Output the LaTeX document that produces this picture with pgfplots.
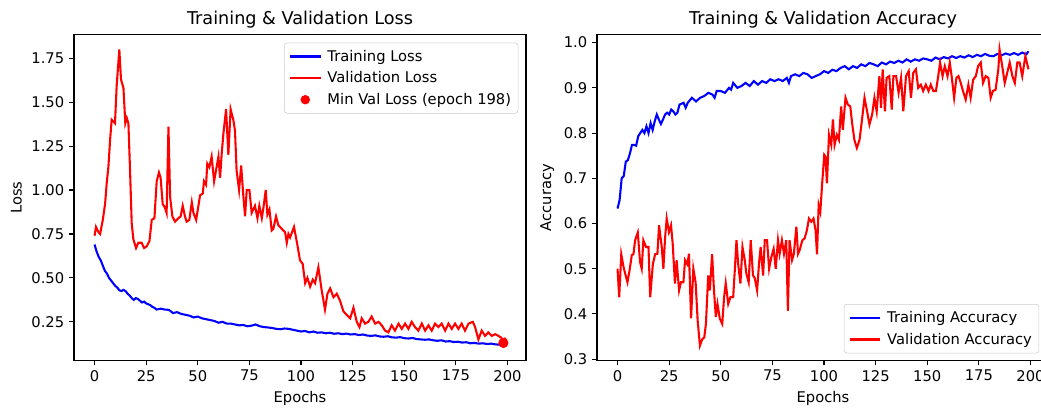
\documentclass[border=0pt]{standalone}
\usepackage{fontspec}
\setmainfont{DejaVu Sans}
\usepackage{pgfplots}
\usepackage{pgfplotstable}
\pgfplotsset{compat=1.18}

% training loss, per epoch early on, then every 2 epochs
\pgfplotstableread{
ep val
0 0.690
1 0.650
2 0.620
3 0.600
4 0.570
5 0.540
6 0.525
7 0.500
8 0.485
9 0.470
10 0.455
11 0.445
12 0.430
13 0.425
14 0.432
15 0.425
16 0.410
17 0.400
18 0.385
19 0.375
20 0.385
21 0.380
22 0.370
23 0.360
24 0.365
25 0.355
26 0.350
27 0.345
28 0.335
29 0.330
30 0.320
32 0.325
34 0.320
36 0.318
38 0.300
40 0.305
42 0.295
44 0.290
46 0.285
48 0.275
50 0.280
52 0.270
54 0.265
56 0.260
58 0.255
60 0.245
62 0.250
64 0.240
66 0.240
68 0.235
70 0.230
72 0.232
74 0.225
76 0.228
78 0.235
80 0.225
82 0.220
84 0.218
86 0.215
88 0.210
90 0.208
92 0.212
94 0.210
96 0.205
98 0.200
100 0.195
102 0.198
104 0.190
106 0.195
108 0.188
110 0.190
112 0.185
114 0.188
116 0.182
118 0.185
120 0.180
122 0.183
124 0.178
126 0.180
128 0.175
130 0.178
132 0.172
134 0.170
136 0.173
138 0.167
140 0.165
142 0.168
144 0.162
146 0.160
148 0.163
150 0.157
152 0.155
154 0.158
156 0.152
158 0.150
160 0.148
162 0.150
164 0.145
166 0.142
168 0.145
170 0.138
172 0.140
174 0.135
176 0.137
178 0.132
180 0.134
182 0.128
184 0.130
186 0.126
188 0.128
190 0.124
192 0.126
194 0.122
196 0.120
198 0.118
199 0.120
}\trainloss

\pgfplotstableread{
ep val
0 0.74
0.7 0.79
1.9 0.76
2.7 0.75
4.0 0.83
5.1 0.92
5.9 1.04
6.7 1.13
7.5 1.28
8.3 1.40
9.1 1.39
9.9 1.38
10.7 1.59
12.0 1.80
12.8 1.63
14.0 1.58
14.9 1.38
15.6 1.41
16.4 1.38
17.2 1.11
18.0 0.81
18.8 0.72
20.1 0.67
21.2 0.70
22.8 0.70
24.0 0.67
25.3 0.68
26.6 0.71
27.7 0.83
29.0 0.84
30.1 1.05
31.2 1.10
32.0 1.07
33.0 0.92
34.1 0.90
34.9 0.87
35.8 1.36
36.6 0.96
37.7 0.85
39.0 0.82
40.6 0.84
41.7 0.85
42.7 0.91
43.8 0.85
44.6 0.82
45.9 0.83
47.1 0.93
47.9 0.87
49.2 0.83
50.3 0.91
51.1 0.97
52.4 0.98
53.0 1.05
54.0 1.03
54.6 1.15
55.6 1.13
56.7 1.19
57.9 1.05
58.8 1.11
60.0 1.19
60.8 1.07
61.6 1.21
62.4 1.32
63.7 1.46
64.8 1.20
65.9 1.46
67.2 1.40
68.0 1.34
68.8 1.11
70.0 1.00
71.0 1.14
72.1 0.96
72.9 0.85
73.7 1.00
75.0 1.00
76.1 0.87
76.9 0.89
77.7 0.91
78.9 0.84
79.8 0.91
81.0 0.84
81.8 0.90
82.9 1.00
83.7 0.86
84.7 0.89
85.8 0.77
86.6 0.78
87.9 0.85
89.0 0.80
90.6 0.78
92.3 0.76
93.1 0.70
93.9 0.75
94.7 0.73
96.6 0.79
98.2 0.69
99.5 0.60
100.8 0.58
102.0 0.47
103.1 0.50
104.4 0.45
105.7 0.49
106.8 0.47
108.4 0.56
110.0 0.43
111.6 0.32
112.8 0.41
114.1 0.44
115.7 0.39
117.3 0.41
118.9 0.37
120.5 0.31
122.1 0.29
123.8 0.27
125.4 0.33
127.0 0.25
128.3 0.22
129.4 0.27
131.0 0.24
132.6 0.25
134.2 0.28
135.9 0.24
137.5 0.25
139.1 0.23
140.7 0.20
142.3 0.19
143.9 0.23
145.5 0.20
147.2 0.24
148.8 0.21
150.4 0.24
152.0 0.21
153.6 0.25
155.2 0.22
156.8 0.20
158.5 0.24
160.1 0.20
161.7 0.23
163.3 0.20
164.9 0.24
166.5 0.22
168.1 0.24
169.8 0.20
171.4 0.24
173.0 0.21
174.6 0.24
176.2 0.21
177.8 0.24
179.4 0.20
181.1 0.24
183.2 0.25
184.3 0.22
185.9 0.15
187.5 0.20
189.1 0.17
190.7 0.19
192.4 0.17
194.0 0.18
195.6 0.17
197.0 0.16
198.0 0.13
199.0 0.16
}\valloss

\pgfplotstableread{
ep val
0 0.633
1 0.652
2 0.700
3 0.705
4 0.737
5 0.740
6 0.755
7 0.774
8 0.774
9 0.772
10 0.793
11 0.800
12 0.807
13 0.800
14 0.815
15 0.800
16 0.822
17 0.807
18 0.826
19 0.841
20 0.830
21 0.820
22 0.830
23 0.841
24 0.845
25 0.841
26 0.852
27 0.848
28 0.841
29 0.845
30 0.863
32 0.867
33 0.856
34 0.867
36 0.878
37 0.874
38 0.870
40 0.878
42 0.882
44 0.889
46 0.885
47 0.878
48 0.893
50 0.893
52 0.889
54 0.900
55 0.896
56 0.911
58 0.900
60 0.904
62 0.911
64 0.904
66 0.915
68 0.907
70 0.915
72 0.911
74 0.919
76 0.915
78 0.919
80 0.915
82 0.922
83 0.911
84 0.926
86 0.930
88 0.926
90 0.933
92 0.930
94 0.922
96 0.926
98 0.930
100 0.937
102 0.933
104 0.940
106 0.937
108 0.944
110 0.948
112 0.941
114 0.948
116 0.944
118 0.952
120 0.948
122 0.955
124 0.952
126 0.948
128 0.956
130 0.952
132 0.958
134 0.955
136 0.960
138 0.956
140 0.963
142 0.958
144 0.963
146 0.960
148 0.965
150 0.963
152 0.960
154 0.967
156 0.963
158 0.968
160 0.965
162 0.970
164 0.966
166 0.970
168 0.967
170 0.972
172 0.968
174 0.973
176 0.970
178 0.975
180 0.971
182 0.970
184 0.975
186 0.972
188 0.976
190 0.973
192 0.977
194 0.973
196 0.978
198 0.974
199 0.981
}\trainacc

\pgfplotstableread{
ep val
0.0 0.500
0.8 0.437
1.8 0.532
2.9 0.504
3.7 0.489
4.8 0.470
5.8 0.496
6.9 0.530
7.7 0.532
8.5 0.563
9.8 0.580
10.9 0.515
11.7 0.500
12.5 0.563
13.8 0.548
14.98 0.548
15.8 0.437
17.1 0.510
18.2 0.532
19.3 0.533
20.1 0.596
21.4 0.548
22.2 0.500
23.0 0.567
23.8 0.611
24.9 0.581
25.9 0.596
26.7 0.556
27.8 0.467
28.6 0.519
29.8 0.452
30.7 0.470
31.9 0.470
32.7 0.519
33.8 0.510
34.6 0.533
35.6 0.390
36.7 0.500
37.8 0.470
38.8 0.385
39.9 0.330
41.0 0.344
42.0 0.348
42.8 0.378
43.9 0.485
44.7 0.452
45.8 0.532
46.7 0.452
47.6 0.393
48.4 0.422
49.5 0.390
50.7 0.378
51.6 0.437
52.4 0.468
53.6 0.422
54.7 0.437
56.0 0.437
56.8 0.498
57.6 0.563
58.4 0.511
59.5 0.467
60.5 0.548
61.6 0.519
62.4 0.489
63.5 0.470
64.5 0.563
65.6 0.485
66.4 0.480
67.6 0.452
68.5 0.511
69.3 0.548
70.5 0.485
71.3 0.563
72.4 0.563
73.4 0.500
74.5 0.526
75.6 0.544
76.6 0.500
77.7 0.563
78.5 0.533
79.6 0.563
80.6 0.533
81.7 0.563
82.5 0.407
83.3 0.563
84.5 0.519
85.4 0.533
86.6 0.593
87.4 0.533
88.2 0.541
89.5 0.563
90.6 0.567
91.7 0.585
92.7 0.611
93.8 0.604
94.9 0.611
95.9 0.585
96.6 0.532
97.4 0.641
98.2 0.626
99.1 0.689
100.1 0.752
100.7 0.748
101.4 0.689
102.4 0.796
103.5 0.774
104.3 0.830
105.1 0.774
106.2 0.796
107.2 0.785
108.3 0.859
109.1 0.807
110.4 0.878
111.5 0.863
112.7 0.859
113.6 0.822
114.7 0.785
115.9 0.767
117.2 0.785
118.4 0.830
119.6 0.878
120.7 0.852
122.0 0.819
123.3 0.841
124.4 0.878
125.5 0.848
126.8 0.926
127.6 0.856
128.4 0.941
129.5 0.848
130.3 0.922
131.6 0.926
132.8 0.852
133.6 0.926
134.9 0.926
136.1 0.889
137.3 0.922
138.4 0.848
139.7 0.926
141.0 0.937
142.1 0.878
143.2 0.933
144.5 0.941
145.6 0.900
146.9 0.907
148.0 0.893
149.3 0.907
150.6 0.893
151.7 0.907
152.9 0.893
154.2 0.893
155.3 0.926
156.2 0.956
157.4 0.926
158.5 0.948
159.8 0.926
160.9 0.956
161.9 0.922
163.0 0.878
164.1 0.922
165.1 0.926
166.2 0.911
167.3 0.893
168.6 0.874
169.9 0.907
171.0 0.878
172.2 0.918
173.5 0.926
174.6 0.948
175.9 0.956
177.0 0.911
178.3 0.926
179.6 0.922
180.7 0.878
181.8 0.893
183.1 0.896
184.4 0.941
185.0 0.985
186.3 0.948
187.5 0.911
188.7 0.933
189.9 0.956
191.2 0.926
192.4 0.911
193.6 0.956
194.7 0.956
196.0 0.926
197.5 0.970
199.0 0.941
}\valacc

\pgfplotsset{
  mpl/.style={
    scale only axis,
    width=325.44pt, height=234.72pt,
    xmin=-9.95, xmax=208.95,
    tick pos=left, tick align=outside,
    major tick length=3.5pt,
    every tick/.style={black, line width=0.8pt},
    axis line style={line width=0.8pt},
    xtick={0,25,...,200},
    xticklabels={0,25,50,75,100,125,150,175,200},
    tick label style={font=\fontsize{10.6}{12.7}\selectfont},
    label style={font=\fontsize{10.6}{12.7}\selectfont},
    title style={font=\fontsize{12.7}{15}\selectfont, yshift=-5pt},
    xlabel={Epochs},
    legend cell align=left,
    legend image code/.code={\draw[#1] (0pt,0pt) -- (22pt,0pt);
      \path[draw=none, fill=none] (-1pt,0pt) -- (25pt,0pt);},
    legend style={font=\fontsize{10.6}{12.7}\selectfont, draw=black!20,
      rounded corners=2pt, fill=white, fill opacity=0.8, text opacity=1,
      inner xsep=3pt, inner ysep=3pt, row sep=2pt},
    every axis plot/.append style={line width=1.5pt},
  }
}

\begin{document}
\begin{tikzpicture}
\begin{axis}[mpl,
  at={(53.28pt,34.2pt)}, anchor=south west,
  ymin=0.03, ymax=1.885,
  ytick={0.25,0.5,0.75,1,1.25,1.5,1.75},
  yticklabels={0.25,0.50,0.75,1.00,1.25,1.50,1.75},
  ylabel={Loss},
  title={Training \& Validation Loss},
  legend style={at={(0.983,0.975)}, anchor=north east},
]
\addplot[blue] table[x=ep, y=val] {\trainloss};
\addlegendentry{Training Loss}
\addplot[red] table[x=ep, y=val] {\valloss};
\addlegendentry{Validation Loss}
\addplot[only marks, mark=*, mark size=3.4pt, red, line width=0.5pt,
  legend image code/.code={\fill[red, draw=none, fill opacity=1] (11pt,0pt) circle (3.4pt);
    \path[draw=none, fill=none] (-1pt,0pt) -- (25pt,0pt);}]
  coordinates {(198,0.13)};
\addlegendentry{Min Val Loss (epoch 198)}
\end{axis}

\begin{axis}[mpl,
  at={(429.84pt,34.2pt)}, anchor=south west,
  ymin=0.297, ymax=1.018,
  ytick={0.3,0.4,0.5,0.6,0.7,0.8,0.9,1.0},
  yticklabels={0.3,0.4,0.5,0.6,0.7,0.8,0.9,1.0},
  ylabel={Accuracy},
  title={Training \& Validation Accuracy},
  legend style={at={(0.978,0.022)}, anchor=south east},
]
\addplot[blue] table[x=ep, y=val] {\trainacc};
\addlegendentry{Training Accuracy}
\addplot[red] table[x=ep, y=val] {\valacc};
\addlegendentry{Validation Accuracy}
\end{axis}

\pgfresetboundingbox
\useasboundingbox (0pt,0pt) rectangle (749.52pt,293.76pt);
\end{tikzpicture}
\end{document}
